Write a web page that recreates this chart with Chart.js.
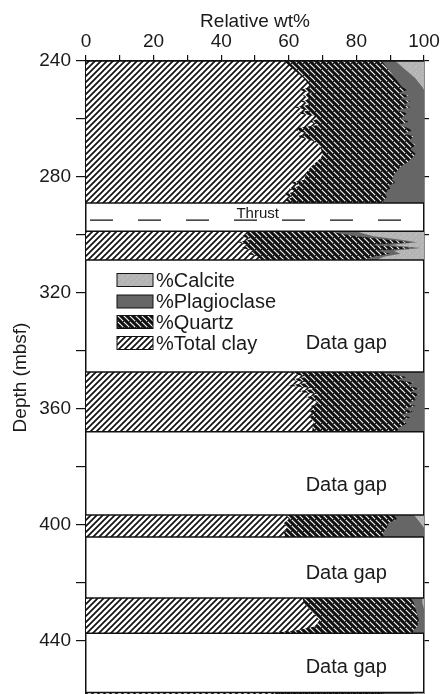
<!DOCTYPE html>
<html lang="en">
<head>
  <meta charset="UTF-8">
  <script src="https://cdn.jsdelivr.net/npm/chart.js"></script>
  <title>Relative wt%</title>
  <style>
    body{margin:0; background:#fff;}
    #wrap{width:442px; height:694px; position:relative;}
  </style>
</head>
<body>
<div id="wrap"><canvas id="myChart"></canvas></div>
<script>
// depth in mbsf, a null row marks a data gap
const depth = [
  240, 241.5, 243, 244.5, 246, 247.5, 249, 250, 251, 252, 253, 254, 255, 256, 257, 258, 259, 260, 261, 262, 263,
  264, 265, 266, 267.5, 269, 270.5, 272, 273.5, 275, 276.5, 278, 279.5, 281, 282, 283, 284, 285, 286, 287, 288, 289,
  293.5,
  298.7, 299.5, 300.5, 301.5, 302.5, 303.5, 304.5, 305.5, 306.5, 307.5, 308.7,
  330,
  347.3, 348, 349, 350, 351, 352, 353, 354, 355, 356, 357, 358, 359, 360, 361, 362, 363, 364, 365, 366.5, 367.9,
  385,
  396.6, 398, 399.5, 401, 402.5, 404.2,
  415,
  425.3, 427, 429, 431, 433, 435, 436.5, 437.4,
  447,
  457.9, 460
];
const clay = [
  58.5, 60, 61.5, 63, 64.5, 65.5, 66.5, 63, 67, 64, 66.5, 63.5, 66.5, 61.5, 66, 62.5, 68, 68.5, 66, 69, 63,
  62, 65.5, 62.5, 67, 69, 69.5, 70, 69.5, 68, 66.5, 65.5, 65, 64.5, 60.5, 63.5, 60, 62, 58.5, 61, 59, 60.5,
  null,
  47, 48, 46, 49, 45, 48, 46, 50, 48, 51, 52,
  null,
  60.5, 62, 65, 60.5, 66, 59.5, 68, 62.5, 69, 65, 67, 69, 66.5, 67.5, 66, 67.5, 66, 67, 67.5, 67, 67,
  null,
  59, 60, 58.5, 59.5, 58.5, 59,
  null,
  64, 64.5, 66, 67.5, 69, 68, 62, 54,
  null,
  56, 56
];
const quartz = [
  29, 28.5, 28, 27.5, 27, 27, 27, 32, 25.5, 31.5, 26.5, 32.5, 27.5, 34.5, 26, 32.5, 26, 24.5, 29.5, 23.5, 32,
  34.5, 28.5, 34.5, 28.5, 28.5, 26.5, 27.5, 27, 27, 26.5, 26.5, 26, 26, 31, 26, 30, 27, 30, 28, 29, 27.5,
  null,
  25, 27, 34, 39, 51, 36, 51, 36, 42, 34, 30,
  null,
  26.5, 27, 30, 31.5, 31, 35.5, 30.5, 33.5, 29.5, 32, 30.5, 26, 31, 26.5, 31, 25.5, 30, 26, 27.5, 25.5, 25,
  null,
  32, 32, 31, 29.5, 29.5, 29,
  null,
  32, 32.5, 31.5, 30.5, 29.5, 30, 35, 42.5,
  null,
  32, 32
];
const plagioclase = [
  4, 4.5, 5, 5.5, 6, 6, 6, 5, 7.5, 4.5, 7, 4, 6, 4, 8, 5, 6, 7, 4.5, 7.5, 5,
  3.5, 6, 3, 4.5, 2.5, 4, 2.5, 3.5, 5, 7, 8, 9, 9.5, 8.5, 10.5, 10, 11, 11.5, 11, 12, 12,
  null,
  8, 7, 5, 4, 2, 6, 2, 5, 3, 3, 4,
  null,
  13, 11, 5, 8, 3, 5, 1.5, 4, 1.5, 3, 2.5, 5, 2.5, 6, 3, 7, 4, 7, 5, 7.5, 8,
  null,
  6, 6, 9.5, 11, 12, 12,
  null,
  3.5, 2.5, 2.5, 2, 1.5, 2, 3, 3.5,
  null,
  9, 9
];
const calcite = [
  8.5, 7, 5.5, 4, 2.5, 1.5, 0.5, 0, 0, 0, 0, 0, 0, 0, 0, 0, 0, 0, 0, 0, 0,
  0, 0, 0, 0, 0, 0, 0, 0, 0, 0, 0, 0, 0, 0, 0, 0, 0, 0, 0, 0, 0,
  null,
  20, 18, 15, 8, 2, 10, 1, 9, 7, 12, 14,
  null,
  0, 0, 0, 0, 0, 0, 0, 0, 0, 0, 0, 0, 0, 0, 0, 0, 0, 0, 0, 0, 0,
  null,
  3, 2, 1, 0, 0, 0,
  null,
  0.5, 0.5, 0, 0, 0, 0, 0, 0,
  null,
  3, 3
];
const thrustDepth = 294.9;
const gapLabelDepths = [337.3, 386.3, 416.7, 449.1];

const FONT = "'Liberation Sans', Arial, Helvetica, sans-serif";
Chart.defaults.font.family = FONT;
Chart.defaults.color = '#1a1a1a';

function makePattern(size, draw) {
  const c = document.createElement('canvas');
  c.width = size; c.height = size;
  draw(c.getContext('2d'));
  return c.getContext('2d').createPattern(c, 'repeat');
}
const clayFill = makePattern(6, g => {
  g.fillStyle = '#fff'; g.fillRect(0, 0, 6, 6);
  g.strokeStyle = '#111'; g.lineWidth = 1.7;
  g.beginPath();
  g.moveTo(-1, 7); g.lineTo(7, -1);
  g.moveTo(-1, 1); g.lineTo(1, -1);
  g.moveTo(5, 7); g.lineTo(7, 5);
  g.stroke();
});
// black with white dotted "\" stripes
const quartzFill = makePattern(6, g => {
  g.fillStyle = '#101010'; g.fillRect(0, 0, 6, 6);
  g.strokeStyle = '#f2f2f2'; g.lineWidth = 1.2;
  g.beginPath();
  g.moveTo(-1, -1); g.lineTo(7, 7);
  g.moveTo(5, -1); g.lineTo(7, 1);
  g.moveTo(-1, 5); g.lineTo(1, 7);
  g.stroke();
  g.fillStyle = '#101010';
  g.fillRect(3, 3, 1, 1);
});
const plagFill = '#666666';
const calciteFill = makePattern(6, g => {
  g.fillStyle = '#b4b4b4'; g.fillRect(0, 0, 6, 6);
  g.fillStyle = '#c6c6c6';
  g.fillRect(1, 1, 1, 1); g.fillRect(4, 3, 1, 1); g.fillRect(2, 5, 1, 1);
});

function pts(vals) {
  return depth.map((d, i) => ({ y: d, x: vals[i] }));
}
function ds(label, vals, fill, order) {
  return {
    label: label,
    data: pts(vals),
    backgroundColor: fill,
    borderColor: 'rgba(0,0,0,0)',
    borderWidth: 1,
    pointRadius: 0,
    tension: 0,
    fill: 'origin',
    order: order
  };
}

// block edges, gap labels, thrust line and the legend box
const extras = {
  id: 'extras',
  afterDatasetsDraw(chart) {
    const ctx = chart.ctx, a = chart.chartArea;
    const xs = chart.scales.x, ys = chart.scales.y;
    ctx.save();
    ctx.beginPath(); ctx.rect(a.left, a.top, a.right - a.left, a.bottom - a.top); ctx.clip();

    ctx.strokeStyle = '#111'; ctx.lineWidth = 1.5;
    for (let i = 0; i < depth.length; i++) {
      if (clay[i] === null) continue;
      const start = i === 0 || clay[i - 1] === null;
      const end = i === depth.length - 1 || clay[i + 1] === null;
      if (start || end) {
        const py = ys.getPixelForValue(depth[i]);
        ctx.beginPath(); ctx.moveTo(a.left, py); ctx.lineTo(a.right, py); ctx.stroke();
      }
    }

    // thrust
    const ty = ys.getPixelForValue(thrustDepth);
    ctx.setLineDash([23, 25]); ctx.lineDashOffset = -4;
    ctx.lineWidth = 1.3;
    ctx.beginPath(); ctx.moveTo(a.left, ty); ctx.lineTo(a.right, ty); ctx.stroke();
    ctx.setLineDash([]);
    ctx.font = '15px ' + FONT;
    ctx.fillStyle = '#1a1a1a';
    ctx.textAlign = 'left'; ctx.textBaseline = 'alphabetic';
    ctx.fillText('Thrust', xs.getPixelForValue(44.5), ty - 2);

    ctx.font = '20px ' + FONT;
    ctx.textAlign = 'center'; ctx.textBaseline = 'middle';
    gapLabelDepths.forEach(d => {
      ctx.fillText('Data gap', xs.getPixelForValue(77), ys.getPixelForValue(d));
    });

    // legend
    const rows = [0, 1, 2, 3].map(i => chart.data.datasets[i]);
    const rowY = [280, 301.5, 322, 343];
    rows.forEach((d, k) => {
      const y = rowY[k];
      ctx.fillStyle = d.backgroundColor;
      ctx.fillRect(117, y - 6.5, 36, 13);
      ctx.lineWidth = 1; ctx.strokeStyle = '#111';
      ctx.strokeRect(117, y - 6.5, 36, 13);
      ctx.fillStyle = '#1a1a1a';
      ctx.textAlign = 'left';
      ctx.fillText(d.label, 156, y + 1);
    });
    ctx.restore();
  }
};

function noVPad(s) {
  s.paddingTop = 0;
  s.paddingBottom = 0;
}

new Chart(document.getElementById('myChart'), {
  type: 'line',
  data: {
    datasets: [
      ds('%Calcite', calcite, calciteFill, 3),
      ds('%Plagioclase', plagioclase, plagFill, 2),
      ds('%Quartz', quartz, quartzFill, 1),
      ds('%Total clay', clay, clayFill, 0)
    ]
  },
  options: {
    indexAxis: 'y',
    responsive: true,
    maintainAspectRatio: false,
    animation: false,
    layout: { padding: 0 },
    plugins: { legend: { display: false }, tooltip: { enabled: false } },
    scales: {
      x: {
        type: 'linear', position: 'top', min: 0, max: 100, stacked: true,
        afterFit(s) { s.height = 61; },
        title: { display: true, text: 'Relative wt%', font: { size: 19 }, padding: { top: 10, bottom: 0 } },
        ticks: { stepSize: 10, autoSkip: false, maxRotation: 0, padding: 2, font: { size: 19 },
          callback: v => v % 20 === 0 ? v : '' },
        grid: { drawOnChartArea: false, tickLength: 6, color: '#111', lineWidth: 1.2 },
        border: { color: '#111', width: 1.5 }
      },
      y: {
        type: 'linear', position: 'left', reverse: true, min: 240, max: 458.4,
        afterFit(s) { s.width = 86; noVPad(s); },
        title: { display: true, text: 'Depth (mbsf)', font: { size: 19 }, padding: { top: 9, bottom: 0 } },
        ticks: { stepSize: 20, includeBounds: false, autoSkip: false, padding: 5, font: { size: 19 },
          callback: v => v % 40 === 0 ? v : '' },
        grid: { drawOnChartArea: false, tickLength: 10, color: '#111', lineWidth: 1.2 },
        border: { color: '#111', width: 1.5 }
      },
      y2: {
        type: 'linear', position: 'right', reverse: true, min: 240, max: 458.4,
        afterFit(s) { s.width = 18; noVPad(s); },
        ticks: { display: false, stepSize: 20, includeBounds: false },
        grid: { drawOnChartArea: false, tickLength: 5, color: '#111', lineWidth: 1.2 },
        border: { color: '#111', width: 1.5 }
      }
    }
  },
  plugins: [extras]
});
</script>
</body>
</html>
